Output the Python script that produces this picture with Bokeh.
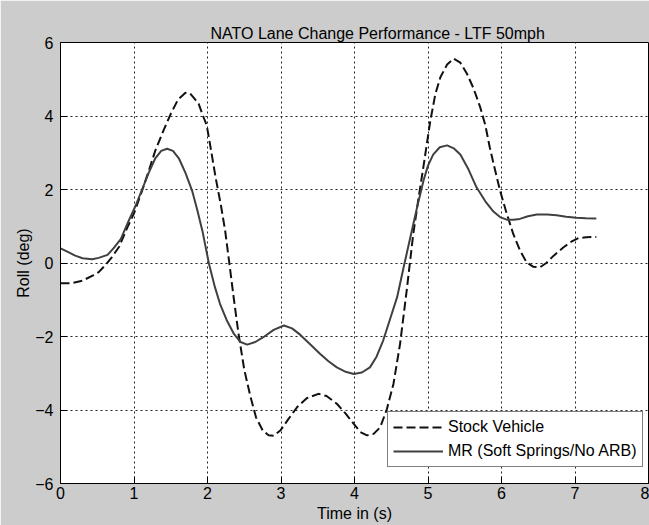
from bokeh.plotting import figure
from bokeh.models import FixedTicker, Range1d
from bokeh.embed import file_html
from bokeh.resources import INLINE

# ---- data ----
stock_t = [0.00, 0.15, 0.30, 0.45, 0.52, 0.60, 0.70, 0.80, 0.91, 1.00, 1.11, 1.20, 1.29, 1.40,
           1.50, 1.60, 1.70, 1.76, 1.82, 1.88, 1.94, 1.99, 2.05, 2.11, 2.18, 2.24, 2.30, 2.36,
           2.42, 2.50, 2.58, 2.66, 2.75, 2.83, 2.90, 2.99, 3.10, 3.22, 3.35, 3.51, 3.62, 3.76,
           3.88, 3.99, 4.08, 4.17, 4.26, 4.35, 4.44, 4.53, 4.62, 4.71, 4.80, 4.87, 4.94, 5.03,
           5.10, 5.17, 5.26, 5.35, 5.44, 5.53, 5.62, 5.71, 5.78, 5.84, 5.91, 5.98, 6.07, 6.16,
           6.25, 6.34, 6.43, 6.52, 6.61, 6.71, 6.84, 6.95, 7.05, 7.15, 7.29]
stock_roll = [-0.55, -0.55, -0.48, -0.33, -0.25, -0.08, 0.16, 0.45, 0.97, 1.35, 1.97, 2.50, 3.06, 3.60,
              4.06, 4.45, 4.63, 4.62, 4.48, 4.33, 4.00, 3.74, 3.05, 2.33, 1.60, 0.88, -0.05, -1.00,
              -1.90, -2.90, -3.60, -4.20, -4.55, -4.69, -4.70, -4.56, -4.25, -3.92, -3.68, -3.56, -3.62, -3.83,
              -4.10, -4.38, -4.60, -4.69, -4.65, -4.47, -3.98, -3.29, -2.20, -0.75, 0.80, 1.75, 2.65, 3.85,
              4.60, 5.06, 5.40, 5.56, 5.45, 5.15, 4.75, 4.24, 3.75, 3.15, 2.55, 1.97, 1.35, 0.79,
              0.35, 0.02, -0.10, -0.12, 0.00, 0.20, 0.42, 0.58, 0.68, 0.70, 0.71]

mr_t = [0.00, 0.10, 0.20, 0.30, 0.43, 0.52, 0.64, 0.72, 0.82, 0.93, 1.02, 1.11, 1.20, 1.29,
        1.37, 1.45, 1.53, 1.61, 1.70, 1.79, 1.86, 1.93, 2.02, 2.10, 2.17, 2.26, 2.36, 2.45,
        2.54, 2.65, 2.76, 2.90, 3.04, 3.15, 3.26, 3.40, 3.53, 3.65, 3.76, 3.88, 3.99, 4.10,
        4.21, 4.30, 4.39, 4.48, 4.58, 4.67, 4.76, 4.85, 4.94, 5.00, 5.07, 5.16, 5.26, 5.35,
        5.44, 5.55, 5.66, 5.78, 5.89, 5.98, 6.07, 6.16, 6.25, 6.36, 6.48, 6.62, 6.75, 6.88,
        7.02, 7.15, 7.29]
mr_roll = [0.40, 0.30, 0.20, 0.13, 0.10, 0.14, 0.22, 0.40, 0.65, 1.16, 1.55, 2.00, 2.45, 2.85,
           3.05, 3.11, 3.05, 2.85, 2.45, 1.97, 1.45, 0.88, -0.02, -0.65, -1.11, -1.55, -1.93, -2.15,
           -2.22, -2.15, -2.02, -1.82, -1.70, -1.78, -1.95, -2.22, -2.47, -2.68, -2.84, -2.96, -3.02, -2.98,
           -2.84, -2.55, -2.11, -1.55, -0.93, -0.10, 0.70, 1.50, 2.25, 2.65, 2.95, 3.15, 3.20, 3.12,
           2.95, 2.55, 2.06, 1.68, 1.40, 1.25, 1.18, 1.18, 1.20, 1.27, 1.32, 1.32, 1.30, 1.26,
           1.23, 1.22, 1.21]

x_ticks = [0, 1, 2, 3, 4, 5, 6, 7, 8]
y_ticks = [-6, -4, -2, 0, 2, 4, 6]
series_names = ["Stock Vehicle", "MR (Soft Springs/No ARB)"]
title_text = "NATO Lane Change Performance - LTF 50mph"
x_label = "Time in (s)"
y_label = "Roll (deg)"

FONT = "Liberation Sans"

p = figure(width=649, height=525, output_backend="svg", toolbar_location=None,
           x_range=Range1d(x_ticks[0], x_ticks[-1]), y_range=Range1d(y_ticks[0], y_ticks[-1]),
           min_border_left=60, min_border_right=1, min_border_top=42, min_border_bottom=42,
           background_fill_color="white", border_fill_color="#cccccc",
           title=title_text)

p.outline_line_color = "black"
p.outline_line_width = 1

# title
p.title.text_font = FONT
p.title.text_font_size = "16px"
p.title.text_font_style = "normal"
p.title.text_color = "black"
p.title.align = "left"
p.title.offset = 150
p.title.standoff = 2

# axes
for ax in (p.xaxis[0], p.yaxis[0]):
    ax.major_label_text_font = FONT
    ax.major_label_text_font_size = "16px"
    ax.major_label_text_color = "black"
    ax.axis_label_text_font = FONT
    ax.axis_label_text_font_size = "16px"
    ax.axis_label_text_font_style = "normal"
    ax.axis_label_text_color = "black"
    ax.major_tick_in = 7
    ax.major_tick_out = 0
    ax.minor_tick_line_color = None
    ax.axis_line_color = "black"
    ax.major_tick_line_color = "black"

p.xaxis[0].ticker = FixedTicker(ticks=x_ticks)
p.yaxis[0].ticker = FixedTicker(ticks=y_ticks)
p.xaxis[0].axis_label = x_label
p.yaxis[0].axis_label = y_label
p.xaxis[0].major_label_standoff = 3
p.xaxis[0].axis_label_standoff = 3
p.yaxis[0].major_label_standoff = 7
p.yaxis[0].axis_label_standoff = 0

# grid
p.xgrid.ticker = FixedTicker(ticks=x_ticks)
p.ygrid.ticker = FixedTicker(ticks=y_ticks)
for g in (p.xgrid[0], p.ygrid[0]):
    g.grid_line_color = "#222222"
    g.grid_line_dash = "2 3"
    g.grid_line_width = 1
    g.grid_line_alpha = 1.0

# series
p.line(stock_t, stock_roll, line_color="#111111", line_width=2, line_dash="9 4",
       legend_label=series_names[0])
p.line(mr_t, mr_roll, line_color="#404040", line_width=2, legend_label=series_names[1])

lg = p.legend[0]
lg.location = (327, 16)
lg.label_text_font = FONT
lg.label_text_font_size = "16px"
lg.label_text_color = "black"
lg.glyph_width = 50
lg.glyph_height = 20
lg.label_height = 20
lg.label_standoff = 5
lg.padding = 5
lg.spacing = 4
lg.margin = 0
lg.border_line_color = "black"
lg.border_line_width = 1
lg.background_fill_color = "white"
lg.background_fill_alpha = 1.0

open("out.html", "w").write(file_html(p, INLINE))
